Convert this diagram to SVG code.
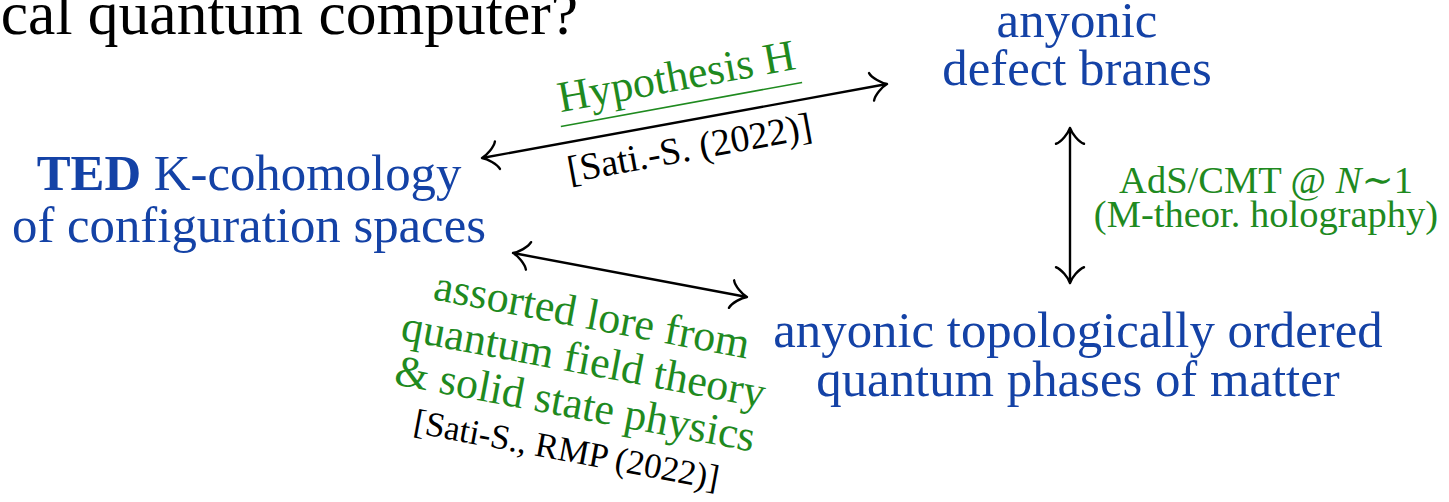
<svg xmlns="http://www.w3.org/2000/svg" xmlns:xlink="http://www.w3.org/1999/xlink" width="1449" height="502" viewBox="0 0 1449 502">
<style>
text{font-family:"Liberation Serif","DejaVu Serif",serif}
.node{fill:#1442a6;font-size:50.8px;text-anchor:middle}
.grn{fill:#1f8a1f;text-anchor:middle}
.blk{fill:#000;text-anchor:middle}
.conn line,.conn use{stroke:#000;stroke-width:2.4;fill:none}
.ah{stroke:#000;stroke-width:2.4;fill:none;stroke-linecap:round;stroke-linejoin:round}
</style>
<defs>
<path id="ah" class="ah" d="M -15.75,14 C -14,8.75 -5.25,1.75 0,0 C -5.25,-1.75 -14,-8.75 -15.75,-14"/>
</defs>
<rect width="1449" height="502" fill="#fff"/>
<text x="578" y="34" font-size="61.5" text-anchor="end" fill="#000">cal quantum computer?</text>

<g id="node-ted">
<text class="node" x="249" y="190"><tspan font-weight="bold">TED</tspan> K-cohomology</text>
<text class="node" x="249" y="242">of configuration spaces</text>
</g>
<g id="node-branes">
<text class="node" x="1077" y="37">anyonic</text>
<text class="node" x="1077" y="85">defect branes</text>
</g>
<g id="node-phases">
<text class="node" x="1078" y="347">anyonic topologically ordered</text>
<text class="node" x="1078" y="396">quantum phases of matter</text>
</g>

<g id="connectors" class="conn">
<g id="edge-hypothesis" transform="translate(684.5,121) rotate(-10.35)">
<line x1="-204.5" y1="0" x2="204.5" y2="0"/>
<use xlink:href="#ah" href="#ah" transform="translate(205.9,0)"/>
<use xlink:href="#ah" href="#ah" transform="translate(-205.9,0) rotate(180)"/>
<text class="grn" x="0" y="-31" font-size="44">Hypothesis H</text>
<line x1="-122.6" y1="-16.8" x2="122.6" y2="-16.8" style="stroke:#1f8a1f;stroke-width:1.6"/>
<text class="blk" x="0" y="40" font-size="38">[Sati.-S. (2022)]</text>
</g>
<g id="edge-lore" transform="translate(630,275) rotate(10.65)">
<line x1="-117.6" y1="0" x2="117.6" y2="0"/>
<use xlink:href="#ah" href="#ah" transform="translate(119.05,0)"/>
<use xlink:href="#ah" href="#ah" transform="translate(-119.05,0) rotate(180)"/>
<text class="grn" x="-30" y="60.5" font-size="44">assorted lore from</text>
<text class="grn" x="-30" y="106" font-size="44">quantum field theory</text>
<text class="grn" x="-30" y="151" font-size="44">&amp; solid state physics</text>
<text class="blk" x="-30" y="195" font-size="35">[Sati-S., RMP (2022)]</text>
</g>
<g id="edge-ads">
<line x1="1070" y1="129.5" x2="1070" y2="281.5"/>
<use xlink:href="#ah" href="#ah" transform="translate(1070,128) rotate(-90)"/>
<use xlink:href="#ah" href="#ah" transform="translate(1070,283) rotate(90)"/>
<text class="grn" x="1266" y="193" font-size="38.5">AdS/CMT @ <tspan font-style="italic">N</tspan>∼1</text>
<text class="grn" x="1266" y="227" font-size="38.5">(M-theor. holography)</text>
</g>
</g>
</svg>
